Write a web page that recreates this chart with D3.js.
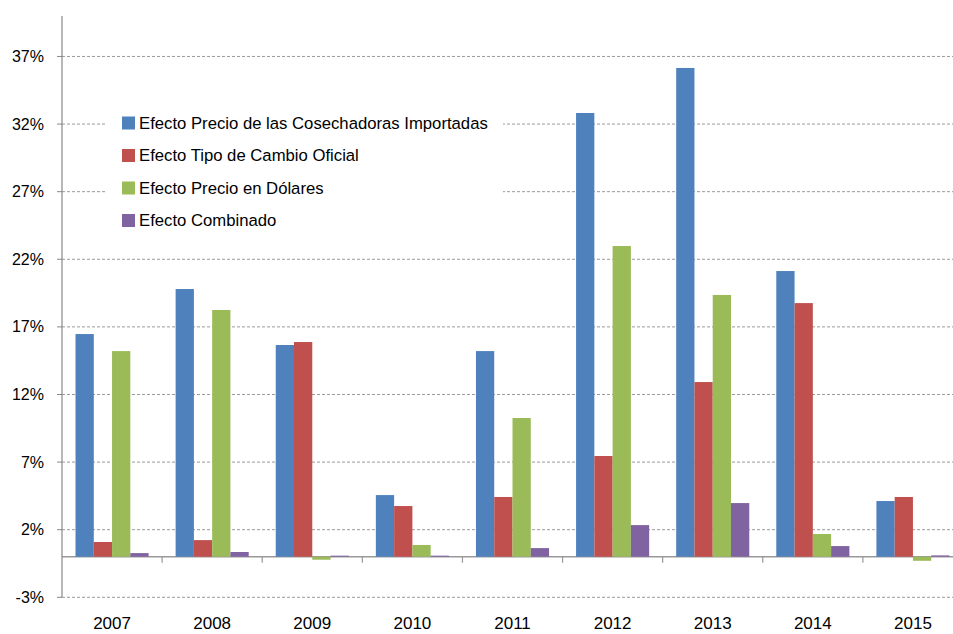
<!DOCTYPE html>
<html>
<head>
<meta charset="utf-8">
<script src="https://cdn.jsdelivr.net/npm/d3@7"></script>
<style>
  body { margin: 0; background: #fff; }
  svg { display: block; }
</style>
</head>
<body>
<svg></svg>
<script>
const width = 953;
const height = 634;

const years = ["2007", "2008", "2009", "2010", "2011", "2012", "2013", "2014", "2015"];
const seriesNames = [
  "Efecto Precio de las Cosechadoras Importadas",
  "Efecto Tipo de Cambio Oficial",
  "Efecto Precio en Dólares",
  "Efecto Combinado"
];
const precioCosechadoras = [16.47, 19.80, 15.66, 4.56, 15.21, 32.82, 36.15, 21.13, 4.12];
const tipoCambio = [1.09, 1.23, 15.88, 3.75, 4.42, 7.45, 12.92, 18.76, 4.42];
const precioDolares = [15.21, 18.25, -0.22, 0.87, 10.26, 22.98, 19.36, 1.68, -0.30];
const combinado = [0.27, 0.35, 0.08, 0.08, 0.64, 2.34, 3.97, 0.79, 0.10];
const yTicks = [-3, 2, 7, 12, 17, 22, 27, 32, 37];

const seriesValues = [precioCosechadoras, tipoCambio, precioDolares, combinado];
const colors = ["#4F81BD", "#C0504D", "#9BBB59", "#8064A2"];

const plotLeft = 62;
const plotRight = 963; // last category runs a bit past the window edge
const font = "'Liberation Sans', Arial, sans-serif";

const svg = d3.select('svg')
  .attr('width', width)
  .attr('height', height);

const y = d3.scaleLinear()
  .domain([-3, 40])
  .range([597.3, 15.9]);

const x = d3.scaleBand()
  .domain(years)
  .range([plotLeft, plotRight]);

const gap = x.bandwidth() * 0.135;
const xInner = d3.scaleBand()
  .domain(d3.range(seriesNames.length))
  .range([gap, x.bandwidth() - gap]);

// gridlines
svg.append('g')
  .selectAll('line')
  .data(yTicks)
  .enter().append('line')
    .attr('x1', plotLeft)
    .attr('x2', width)
    .attr('y1', d => y(d))
    .attr('y2', d => y(d))
    .attr('stroke', '#9a9a9a')
    .attr('stroke-width', 1)
    .attr('stroke-dasharray', '3,2');

// y tick marks + labels
svg.append('g')
  .selectAll('line')
  .data(yTicks)
  .enter().append('line')
    .attr('x1', plotLeft - 5)
    .attr('x2', plotLeft)
    .attr('y1', d => y(d))
    .attr('y2', d => y(d))
    .attr('stroke', '#888');

svg.append('g')
  .selectAll('text')
  .data(yTicks)
  .enter().append('text')
    .text(d => d + "%")
    .attr('x', 44)
    .attr('y', d => y(d))
    .attr('dy', '0.35em')
    .attr('text-anchor', 'end')
    .attr('font-size', 16)
    .attr('font-family', font)
    .attr('fill', '#000');

// legend box (covers the gridlines behind it)
svg.append('rect')
  .attr('x', 107)
  .attr('y', 102)
  .attr('width', 396)
  .attr('height', 136)
  .attr('fill', '#fff');

// axes lines (drawn under the bars)
svg.append('line')
  .attr('x1', plotLeft)
  .attr('x2', width)
  .attr('y1', y(0))
  .attr('y2', y(0))
  .attr('stroke', '#999')
  .attr('stroke-width', 1.5);

// bars
const groups = svg.append('g')
  .selectAll('g')
  .data(seriesValues)
  .enter().append('g')
    .attr('fill', (d, i) => colors[i]);

groups.each(function (values, si) {
  d3.select(this).selectAll('rect')
    .data(values)
    .enter().append('rect')
      .attr('x', (v, i) => x(years[i]) + xInner(si))
      .attr('width', xInner.bandwidth())
      .attr('y', v => y(Math.max(0, v)))
      .attr('height', v => Math.abs(y(v) - y(0)));
});

svg.append('line')
  .attr('x1', plotLeft)
  .attr('x2', plotLeft)
  .attr('y1', y(40))
  .attr('y2', y(-3))
  .attr('stroke', '#888')
  .attr('stroke-width', 1.2);

// category tick marks
svg.append('g')
  .selectAll('line')
  .data(years.slice(1))
  .enter().append('line')
    .attr('x1', d => x(d))
    .attr('x2', d => x(d))
    .attr('y1', y(0))
    .attr('y2', y(0) + 6)
    .attr('stroke', '#999')
    .attr('stroke-width', 1.2);

svg.append('g')
  .selectAll('text')
  .data(years)
  .enter().append('text')
    .text(d => d)
    .attr('x', d => x(d) + x.bandwidth() / 2)
    .attr('y', 629)
    .attr('text-anchor', 'middle')
    .attr('font-size', 17)
    .attr('font-family', font)
    .attr('fill', '#000');

// legend
const legendRowY = [123, 155.5, 188, 220.5];
const legend = svg.append('g')
  .selectAll('g')
  .data(seriesNames)
  .enter().append('g')
    .attr('transform', (d, i) => `translate(122, ${legendRowY[i]})`);

legend.append('rect')
  .attr('x', 0)
  .attr('y', -6.5)
  .attr('width', 13)
  .attr('height', 13)
  .attr('fill', (d, i) => colors[i]);

legend.append('text')
  .text(d => d)
  .attr('x', 17)
  .attr('dy', '0.35em')
  .attr('font-size', 16.7)
  .attr('font-family', font)
  .attr('fill', '#000');
</script>
</body>
</html>
